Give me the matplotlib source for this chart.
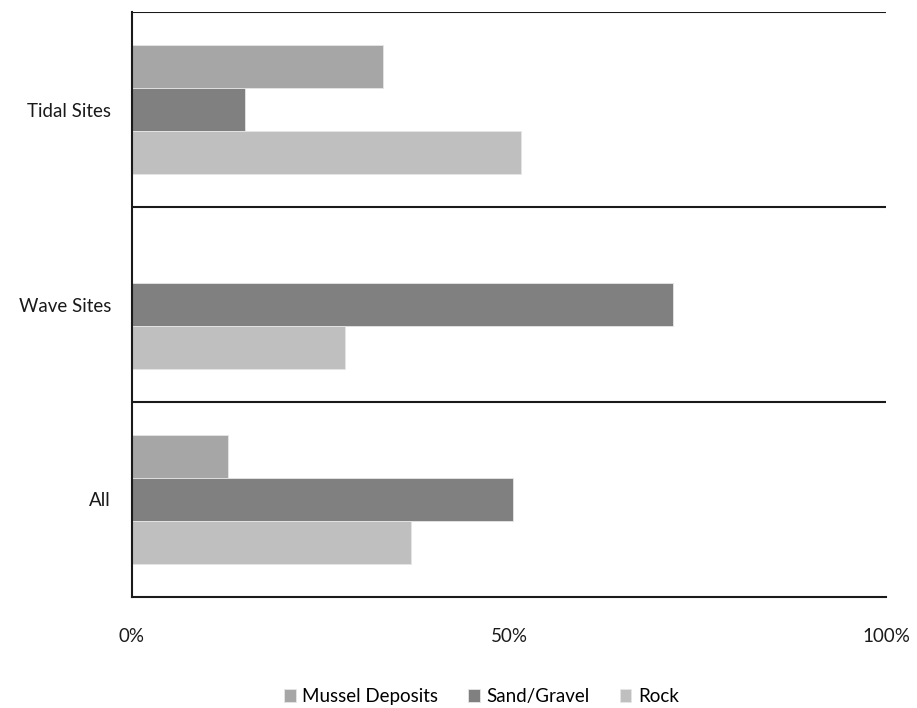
import numpy as np
import matplotlib
matplotlib.use("Agg")
import matplotlib.pyplot as plt
from matplotlib.ticker import FuncFormatter

plt.rcParams['font.family'] = ['Lato', 'DejaVu Sans']

categories = ["All", "Wave Sites", "Tidal Sites"]
series = ["Mussel Deposits", "Sand/Gravel", "Rock"]
mussel = [12.7, 0.0, 33.3]
sand = [50.5, 71.8, 15.0]
rock = [37.0, 28.2, 51.6]
colors = ["#a6a6a6", "#808080", "#bfbfbf"]

fig = plt.figure(figsize=(9.17, 7.08), dpi=100)
ax = fig.add_axes([0.1439, 0.1568, 0.8223, 0.8262])

y = np.arange(len(categories))
h = 0.222
for vals, off, col, name in zip([mussel, sand, rock], [h, 0, -h], colors, series):
    ax.barh(y + off, vals, height=h, color=col, edgecolor="#e6e6e6",
            linewidth=0.6, label=name, zorder=2)

ax.set_xlim(0, 100)
ax.set_ylim(-0.5, 2.5)
ax.set_xticks([0, 50, 100])
ax.xaxis.set_major_formatter(FuncFormatter(lambda v, p: f"{v:.0f}%"))
ax.set_yticks(y)
ax.set_yticklabels(categories)
ax.set_yticks([0.5, 1.5, 2.5], minor=True)
ax.grid(axis="y", which="minor", color="#1a1a1a", linewidth=1.5, zorder=1)
ax.tick_params(axis="both", which="both", length=0, labelsize=13.5, colors="#1a1a1a")
ax.tick_params(axis="x", pad=22)
ax.tick_params(axis="y", pad=15)
for s in ["top", "right"]:
    ax.spines[s].set_visible(False)
for s in ["left", "bottom"]:
    ax.spines[s].set_linewidth(1.5)
    ax.spines[s].set_color("#1a1a1a")

handles, labels = ax.get_legend_handles_labels()
fig.legend(handles, labels, loc="center", bbox_to_anchor=(0.525, 0.016), ncol=3,
           frameon=False, fontsize=13.5, handlelength=0.62, handleheight=0.62,
           handletextpad=0.35, columnspacing=1.6)

fig.savefig("out.png", dpi=100)
